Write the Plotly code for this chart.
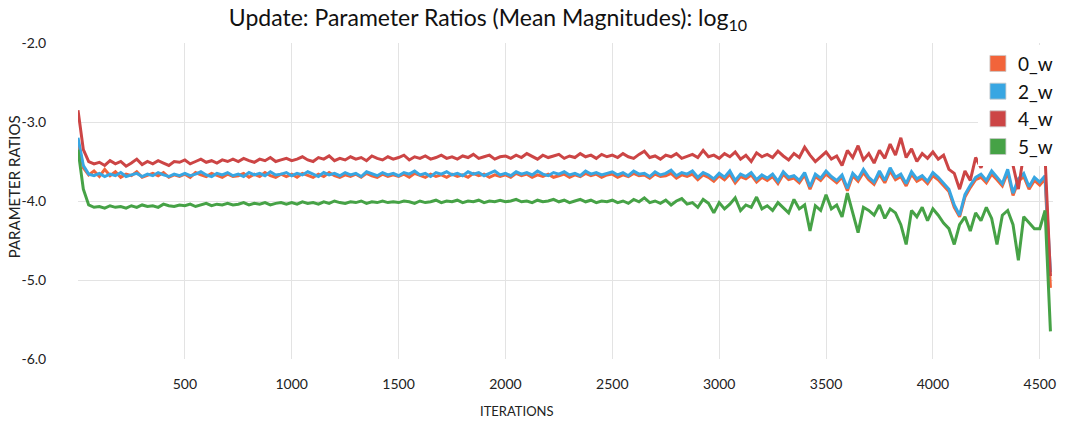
import plotly.graph_objects as go

STEP = 25
series_names = ["0_w", "2_w", "4_w", "5_w"]
colors = ["#F2643A", "#38A6E2", "#CC4545", "#46A246"]

w0 = [
    -3.25, -3.58, -3.67, -3.62, -3.69, -3.60, -3.68, -3.63, -3.70, -3.66,
    -3.68, -3.63, -3.70, -3.67, -3.65, -3.68, -3.64, -3.70, -3.67, -3.69,
    -3.66, -3.70, -3.64, -3.67, -3.69, -3.65, -3.68, -3.70, -3.66, -3.69,
    -3.68, -3.65, -3.70, -3.66, -3.69, -3.64, -3.68, -3.70, -3.66, -3.69,
    -3.66, -3.70, -3.65, -3.68, -3.70, -3.66, -3.69, -3.64, -3.68, -3.70,
    -3.67, -3.69, -3.66, -3.70, -3.65, -3.68, -3.70, -3.66, -3.69, -3.67,
    -3.69, -3.66, -3.70, -3.65, -3.68, -3.70, -3.66, -3.69, -3.67, -3.70,
    -3.66, -3.69, -3.67, -3.70, -3.65, -3.68, -3.66, -3.70, -3.67, -3.69,
    -3.67, -3.70, -3.65, -3.68, -3.66, -3.70, -3.67, -3.69, -3.66, -3.70,
    -3.68, -3.66, -3.70, -3.67, -3.69, -3.65, -3.68, -3.66, -3.70, -3.67,
    -3.66, -3.70, -3.67, -3.69, -3.65, -3.68, -3.67, -3.71, -3.66, -3.69,
    -3.68, -3.65, -3.71, -3.67, -3.69, -3.66, -3.73, -3.67, -3.70, -3.75,
    -3.68, -3.73, -3.66, -3.77, -3.69, -3.72, -3.67, -3.76, -3.70, -3.74,
    -3.69, -3.78, -3.66, -3.73, -3.71, -3.77, -3.67, -3.85, -3.69, -3.74,
    -3.66, -3.72, -3.77, -3.70, -3.87, -3.68, -3.75, -3.64, -3.73, -3.79,
    -3.66, -3.77, -3.62, -3.73, -3.69, -3.81, -3.66, -3.75, -3.71, -3.78,
    -3.68, -3.73, -3.81, -3.88, -4.08, -4.20, -3.95, -3.83, -3.73, -3.70,
    -3.77, -3.66, -3.73, -3.81, -3.64, -3.93, -3.75, -3.69, -3.85, -3.74,
    -3.80, -3.72, -5.10,
]

w2 = [
    -3.20, -3.55, -3.66, -3.68, -3.65, -3.69, -3.66, -3.68, -3.64, -3.69,
    -3.67, -3.65, -3.69, -3.66, -3.68, -3.64, -3.67, -3.69, -3.66, -3.68,
    -3.65, -3.68, -3.66, -3.63, -3.67, -3.69, -3.65, -3.67, -3.64, -3.68,
    -3.66, -3.69, -3.64, -3.67, -3.65, -3.68, -3.63, -3.67, -3.66, -3.64,
    -3.68, -3.65, -3.67, -3.63, -3.66, -3.69, -3.64, -3.67, -3.65, -3.68,
    -3.64, -3.67, -3.65, -3.69, -3.63, -3.66, -3.68, -3.64, -3.67, -3.65,
    -3.68, -3.64, -3.66, -3.62, -3.67, -3.65, -3.69, -3.64, -3.66, -3.63,
    -3.67, -3.65, -3.68, -3.63, -3.66, -3.64, -3.68, -3.65, -3.62, -3.67,
    -3.65, -3.68, -3.63, -3.66, -3.64, -3.67, -3.62, -3.66, -3.68, -3.64,
    -3.66, -3.63, -3.67, -3.65, -3.68, -3.62, -3.66, -3.64, -3.67, -3.65,
    -3.63, -3.67, -3.64, -3.68, -3.62, -3.66, -3.65, -3.69, -3.63, -3.67,
    -3.65, -3.61, -3.68, -3.64, -3.66, -3.62, -3.70, -3.64, -3.67, -3.72,
    -3.65, -3.70, -3.62, -3.74, -3.66, -3.69, -3.64, -3.73, -3.67, -3.71,
    -3.66, -3.75, -3.63, -3.70, -3.68, -3.74, -3.64, -3.82, -3.66, -3.71,
    -3.62, -3.69, -3.74, -3.67, -3.84, -3.65, -3.72, -3.60, -3.70, -3.76,
    -3.62, -3.74, -3.58, -3.70, -3.66, -3.78, -3.63, -3.72, -3.68, -3.75,
    -3.64, -3.70, -3.78, -3.85, -4.05, -4.18, -3.92, -3.80, -3.70, -3.66,
    -3.74, -3.62, -3.70, -3.78, -3.60, -3.90, -3.72, -3.65, -3.82, -3.70,
    -3.76, -3.68, -4.90,
]

w4 = [
    -2.85, -3.35, -3.50, -3.53, -3.51, -3.55, -3.49, -3.53, -3.50, -3.56,
    -3.52, -3.47, -3.54, -3.50, -3.53, -3.49, -3.52, -3.55, -3.50, -3.51,
    -3.48, -3.53, -3.50, -3.47, -3.51, -3.49, -3.52, -3.48, -3.50, -3.47,
    -3.50, -3.46, -3.49, -3.51, -3.47, -3.49, -3.45, -3.50, -3.48, -3.46,
    -3.49, -3.47, -3.44, -3.48, -3.50, -3.45, -3.47, -3.43, -3.49, -3.46,
    -3.48, -3.44, -3.47, -3.45, -3.49, -3.43, -3.46, -3.48, -3.44, -3.47,
    -3.45, -3.42, -3.48, -3.44, -3.46, -3.43, -3.47, -3.45, -3.42, -3.46,
    -3.44, -3.47, -3.43, -3.45, -3.41, -3.46, -3.44, -3.42, -3.47, -3.44,
    -3.43, -3.46, -3.42, -3.45, -3.40, -3.44, -3.47, -3.42, -3.45, -3.43,
    -3.41, -3.46, -3.43, -3.45, -3.40, -3.44, -3.42, -3.46, -3.41, -3.44,
    -3.42, -3.45, -3.40, -3.44, -3.46, -3.41, -3.37, -3.45, -3.43, -3.47,
    -3.42, -3.44, -3.40, -3.46, -3.43, -3.41, -3.45, -3.36, -3.44, -3.42,
    -3.46, -3.40, -3.44, -3.38, -3.47, -3.42, -3.50, -3.39, -3.44, -3.41,
    -3.45, -3.37, -3.43, -3.48, -3.40, -3.45, -3.32, -3.42, -3.50, -3.44,
    -3.38, -3.47, -3.43, -3.55, -3.36, -3.45, -3.30, -3.48, -3.40, -3.52,
    -3.36, -3.46, -3.28, -3.42, -3.20, -3.45, -3.34, -3.50, -3.40, -3.46,
    -3.38, -3.47, -3.42, -3.60, -3.65, -3.85, -3.62, -3.74, -3.45, -3.58,
    -3.40, -3.30, -3.52, -3.38, -3.25, -3.55, -3.85, -3.40, -3.30, -3.48,
    -3.42, -3.45, -4.95,
]

w5 = [
    -3.35, -3.85, -4.05, -4.08, -4.07, -4.09, -4.06, -4.08, -4.07, -4.09,
    -4.06, -4.08, -4.05, -4.07, -4.06, -4.08, -4.04, -4.06, -4.07, -4.05,
    -4.06, -4.04, -4.07, -4.05, -4.03, -4.06, -4.04, -4.05, -4.03, -4.05,
    -4.04, -4.02, -4.05, -4.03, -4.04, -4.02, -4.05, -4.03, -4.02, -4.04,
    -4.02, -4.04, -4.01, -4.03, -4.02, -4.04, -4.01, -4.03, -4.00, -4.02,
    -4.03, -4.01, -4.02, -4.00, -4.03, -4.01, -4.02, -4.00, -4.02, -4.01,
    -4.02, -4.00, -4.01, -4.03, -4.00, -4.02, -4.01, -3.99, -4.02, -4.00,
    -4.01, -3.99, -4.02, -4.00, -4.01, -3.99, -4.02, -4.00, -4.01, -3.99,
    -4.01, -4.00, -3.98, -4.01, -4.00, -4.02, -3.99, -4.01, -4.00, -3.98,
    -4.01, -3.99, -4.02, -4.00, -3.98, -4.01, -3.99, -4.02, -4.00, -4.01,
    -3.99, -4.02, -4.00, -4.03, -3.98, -4.01, -3.96, -4.02, -4.00, -4.03,
    -3.99, -4.05, -4.00, -3.97, -4.04, -4.02, -4.08, -3.98, -4.03, -4.15,
    -4.02, -4.10, -4.04, -3.96, -4.12, -4.05, -4.08, -3.95, -4.10, -4.06,
    -4.12, -4.02, -4.08, -4.15, -3.98, -4.10, -4.05, -4.38, -4.06, -4.12,
    -3.92, -4.10, -4.05, -4.20, -3.90, -4.15, -4.40, -4.08, -4.12, -4.18,
    -4.05, -4.22, -4.10, -4.15, -4.30, -4.55, -4.12, -4.20, -4.08, -4.25,
    -4.10, -4.18, -4.28, -4.35, -4.55, -4.30, -4.20, -4.38, -4.15, -4.25,
    -4.08, -4.22, -4.55, -4.18, -4.12, -4.30, -4.75, -4.20, -4.28, -4.35,
    -4.35, -4.12, -5.65,
]

iterations = [i * STEP for i in range(len(w0))]
x_ticks = [500, 1000, 1500, 2000, 2500, 3000, 3500, 4000, 4500]
y_ticks = [-2.0, -3.0, -4.0, -5.0, -6.0]
y_tick_labels = ["-2.0", "-3.0", "-4.0", "-5.0", "-6.0"]

fig = go.Figure()
for name, vals, col in zip(series_names, [w0, w2, w4, w5], colors):
    fig.add_trace(go.Scatter(
        x=iterations, y=vals, mode="lines", name=name, showlegend=False,
        line=dict(color=col, width=3), hoverinfo="skip",
    ))
for name, col in zip(series_names, colors):
    fig.add_trace(go.Scatter(
        x=[None], y=[None], mode="markers", name=name,
        marker=dict(symbol="square", size=16, color=col,
                    line=dict(color="rgba(200,200,200,0.8)", width=1)),
    ))

font_family = "Lato, Open Sans, sans-serif"
plot_l, plot_r, plot_t, plot_b = 78, 1058, 43, 359

fig.update_layout(
    width=1065, height=424,
    margin=dict(l=plot_l, r=1065 - plot_r, t=plot_t, b=424 - plot_b),
    paper_bgcolor="white", plot_bgcolor="white",
    font=dict(family=font_family, color="#222", size=14),
    title=dict(
        text="Update: Parameter Ratios (Mean Magnitudes): log<sub>10</sub>",
        x=488 / 1065, xanchor="center", xref="container",
        y=1 - 18 / 424, yanchor="middle", yref="container",
        font=dict(size=23, color="#111", family=font_family),
    ),
    legend=dict(
        x=0.923, y=0.995, xanchor="left", yanchor="top",
        bgcolor="white", font=dict(size=19, color="#111"),
        itemwidth=30, tracegroupgap=0,
    ),
    xaxis=dict(
        range=[0, 4562], tickvals=x_ticks, ticktext=[str(v) for v in x_ticks],
        showgrid=True, gridcolor="#e3e3e3", gridwidth=1,
        zeroline=False, showline=False,
        ticks="outside", ticklen=12, tickcolor="rgba(0,0,0,0)",
        tickfont=dict(size=14, color="#222"),
    ),
    yaxis=dict(
        range=[-6, -2], tickvals=y_ticks, ticktext=y_tick_labels,
        showgrid=True, gridcolor="#e3e3e3", gridwidth=1,
        zeroline=False, showline=False,
        ticks="outside", ticklen=28, tickcolor="rgba(0,0,0,0)",
        tickfont=dict(size=14, color="#222"),
    ),
    annotations=[
        dict(text="ITERATIONS", xref="paper", yref="paper",
             x=(519 - plot_l) / (plot_r - plot_l),
             y=-(411 - plot_b) / (plot_b - plot_t),
             xanchor="center", yanchor="middle", showarrow=False,
             font=dict(size=13, color="#222")),
        dict(text="PARAMETER RATIOS", textangle=-90, xref="paper", yref="paper",
             x=-(plot_l - 14) / (plot_r - plot_l),
             y=(plot_b - 187) / (plot_b - plot_t),
             xanchor="center", yanchor="middle", showarrow=False,
             font=dict(size=15, color="#222")),
    ],
)

fig.write_html("out.html")
